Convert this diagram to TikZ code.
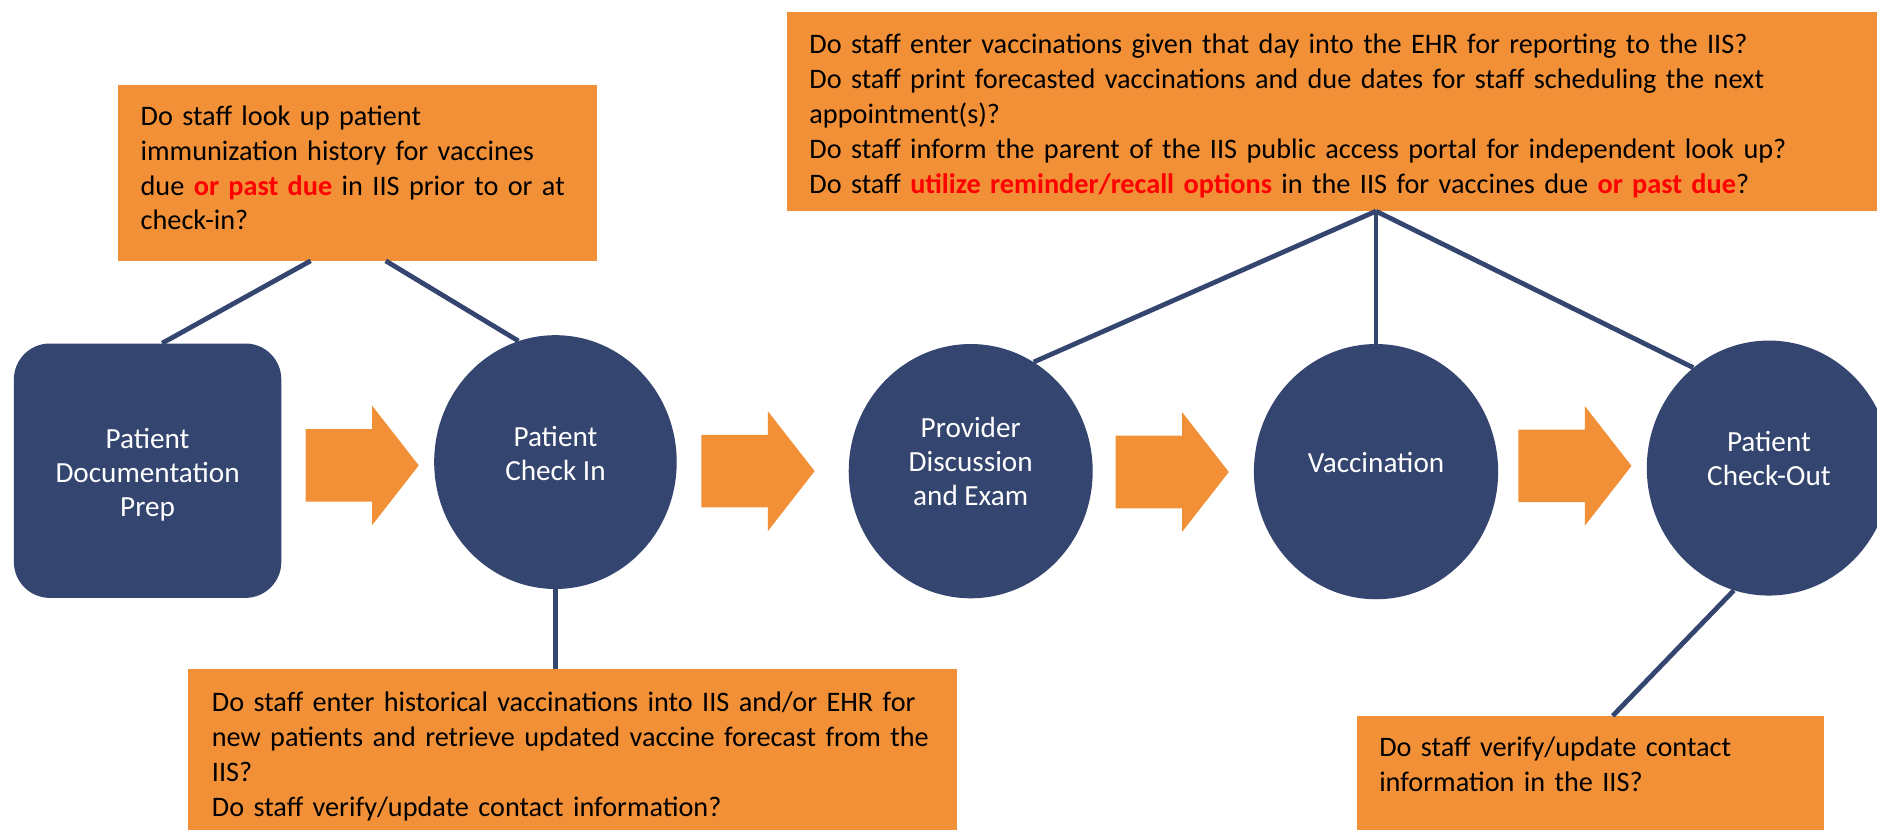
\documentclass[tikz,border=0pt]{standalone}
\usepackage{fontspec}
\setmainfont{Carlito}
\usetikzlibrary{shapes.geometric}
\definecolor{navy}{RGB}{52,69,111}
\definecolor{orng}{RGB}{241,144,55}
\definecolor{redtxt}{RGB}{255,0,0}
\newcommand{\hlred}[1]{\textbf{\textcolor{redtxt}{#1}}}
\newcommand{\qfont}{\fontsize{23.6}{29.2}\selectfont}
\newcommand{\nfont}{\fontsize{24.4}{28.5}\selectfont}
\begin{document}
\begin{tikzpicture}[x=1pt,y=-1pt,
  qbox/.style={fill=orng, draw=none, inner sep=0pt, anchor=north west},
  qtext/.style={anchor=base west, inner sep=0pt, text width=#1, align=left,
    font=\qfont, text=black},
  circ/.style={ellipse, fill=navy, draw=none, inner sep=0pt},
  ntext/.style={inner sep=0pt, align=center, text=white, font=\nfont},
  link/.style={draw=navy, line width=4pt},
  flowarrow/.pic={\fill[orng] (0,-30.3) -- (55.5,-30.3) -- (55.5,-50) -- (94.5,0)
     -- (55.5,50) -- (55.5,30.3) -- (0,30.3) -- cycle;}]
\clip (0,0) rectangle (1568,693);
\fill[white] (0,0) rectangle (1568,693);

% question boxes
\node[qbox, minimum width=400.4pt, minimum height=146.3pt] (tl) at (98.4,71.2) {};
\node[qbox, minimum width=918pt, minimum height=166.3pt] (tr) at (657.5,9.7) {};
\node[qbox, minimum width=642.2pt, minimum height=141pt] (bl) at (156.8,559) {};
\node[qbox, minimum width=390.4pt, minimum height=102pt] (br) at (1133,598) {};

\node[qtext=380pt] (tl-t) at (117.3,104.5) {Do staff look up patient\\
immunization history for vaccines\\
due \hlred{or past due} in IIS prior to or at\\
check-in?};
\node[qtext=890pt] (tr-t) at (676,44.5) {Do staff enter vaccinations given that day into the EHR for reporting to the IIS?\\
Do staff print forecasted vaccinations and due dates for staff scheduling the next\\
appointment(s)?\\
Do staff inform the parent of the IIS public access portal for independent look up?\\
Do staff \hlred{utilize reminder/recall options} in the IIS for vaccines due \hlred{or past due}?};
\node[qtext=620pt] (bl-t) at (176.8,594.6) {Do staff enter historical vaccinations into IIS and/or EHR for\\
new patients and retrieve updated vaccine forecast from the\\
IIS?\\
Do staff verify/update contact information?};
\node[qtext=370pt] (br-t) at (1152,632) {Do staff verify/update contact\\
information in the IIS?};

% process steps
\node[fill=navy, draw=none, rounded corners=30pt, minimum width=223.4pt,
  minimum height=212.5pt, inner sep=0pt] (doc) at (123.3,393.2) {};
\node[circ, minimum width=202.6pt, minimum height=212pt] (ci) at (464,386) {};
\node[circ, minimum width=203.8pt, minimum height=212.4pt] (prov) at (810.9,393.6) {};
\node[circ, minimum width=204pt, minimum height=213.2pt] (vac) at (1149.5,394) {};
\node[circ, minimum width=204pt, minimum height=213pt] (co) at (1477.7,391) {};

\node[ntext] (doc-t) at (123.3,396.8) {Patient\\Documentation\\Prep};
\node[ntext] (ci-t) at (464,379) {Patient\\Check In};
\node[ntext] (prov-t) at (810.9,385.3) {Provider\\Discussion\\and Exam};
\node[ntext] (vac-t) at (1149.5,386) {Vaccination};
\node[ntext] (co-t) at (1477.7,383.3) {Patient\\Check-Out};

% flow arrows
\pic at (255.3,388.8) {flowarrow};
\pic at (586,393.6) {flowarrow};
\pic at (932,394.3) {flowarrow};
\pic at (1268.4,389.2) {flowarrow};

% connectors
\coordinate (hub) at (vac.north |- tr.south);
\draw[link] ([xshift=-39.3pt]tl.south) -- ([xshift=12.1pt]doc.north);
\draw[link] ([xshift=23.4pt]tl.south) -- (ci.107);
\draw[link] (ci.south) -- (ci.south |- bl.north);
\draw[link] (hub) -- (prov.60);
\draw[link] (hub) -- (vac.north);
\draw[link] (hub) -- (co.127);
\draw[link] (co.254) -- ([xshift=18.8pt]br.north);
\end{tikzpicture}
\end{document}
